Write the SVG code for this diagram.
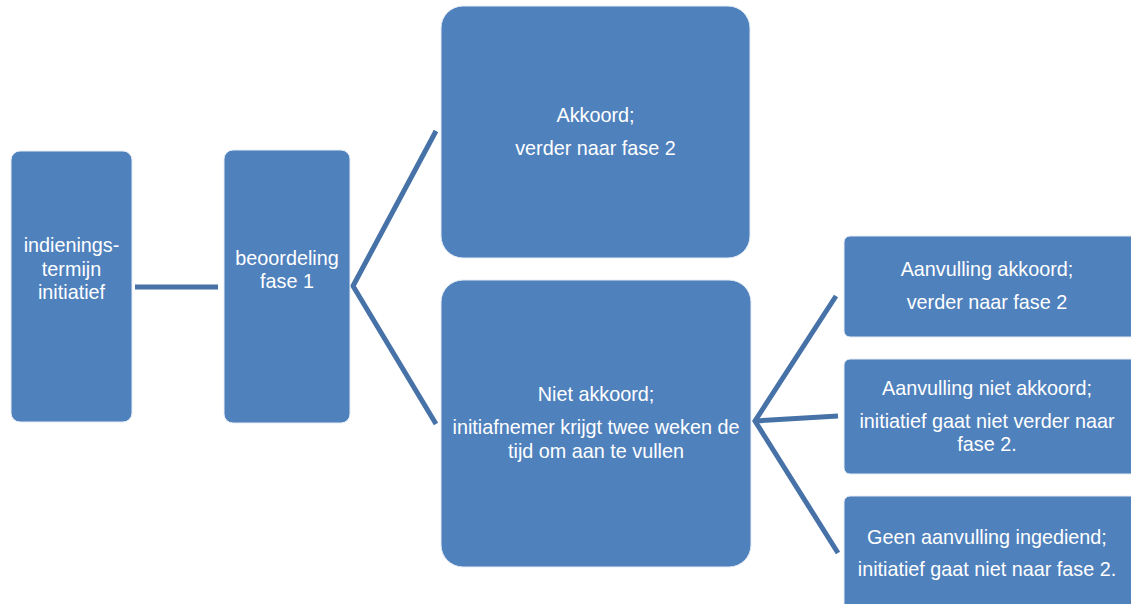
<svg xmlns="http://www.w3.org/2000/svg" width="1131" height="604" viewBox="0 0 1131 604">
<style>
.box{fill:#4F81BD;stroke:#E6EDF5;stroke-width:1}
.t{font-family:"Liberation Sans",Arial,sans-serif;font-size:19.8px;fill:#FFFFFF;text-anchor:middle}
.c{stroke:#4672A8;stroke-width:5;fill:none;stroke-linejoin:miter}
</style>
<rect width="1131" height="604" fill="#FFFFFF"/>
<g id="connectors">
<line class="c" x1="135" y1="287" x2="218" y2="287"/>
<polyline class="c" points="436,131 353,286 436,424"/>
<polyline class="c" points="836,296 755,421 838,553"/>
<line class="c" x1="755" y1="421" x2="838" y2="416"/>
</g>
<g id="n1">
<rect class="box" x="11" y="151" width="121" height="271" rx="9"/>
<text class="t" x="71.5" y="252">indienings-</text>
<text class="t" x="71.5" y="276">termijn</text>
<text class="t" x="71.5" y="299">initiatief</text>
</g>
<g id="n2">
<rect class="box" x="224" y="150" width="126" height="273" rx="9"/>
<text class="t" x="287" y="265">beoordeling</text>
<text class="t" x="287" y="288">fase 1</text>
</g>
<g id="n3">
<rect class="box" x="441" y="6" width="309" height="252" rx="22"/>
<text class="t" x="595.5" y="122">Akkoord;</text>
<text class="t" x="595.5" y="155">verder naar fase 2</text>
</g>
<g id="n4">
<rect class="box" x="441" y="280" width="310" height="287" rx="22"/>
<text class="t" x="596" y="401">Niet akkoord;</text>
<text class="t" x="596" y="434">initiafnemer krijgt twee weken de</text>
<text class="t" x="596" y="458">tijd om aan te vullen</text>
</g>
<g id="n5">
<rect class="box" x="844" y="236" width="295" height="101" rx="6"/>
<text class="t" x="987" y="276">Aanvulling akkoord;</text>
<text class="t" x="987" y="309">verder naar fase 2</text>
</g>
<g id="n6">
<rect class="box" x="844" y="359" width="295" height="115" rx="6"/>
<text class="t" x="987" y="395">Aanvulling niet akkoord;</text>
<text class="t" x="987" y="428">initiatief gaat niet verder naar</text>
<text class="t" x="987" y="451">fase 2.</text>
</g>
<g id="n7">
<rect class="box" x="844" y="496" width="295" height="130" rx="6"/>
<text class="t" x="987" y="544">Geen aanvulling ingediend;</text>
<text class="t" x="987" y="576">initiatief gaat niet naar fase 2.</text>
</g>
</svg>
